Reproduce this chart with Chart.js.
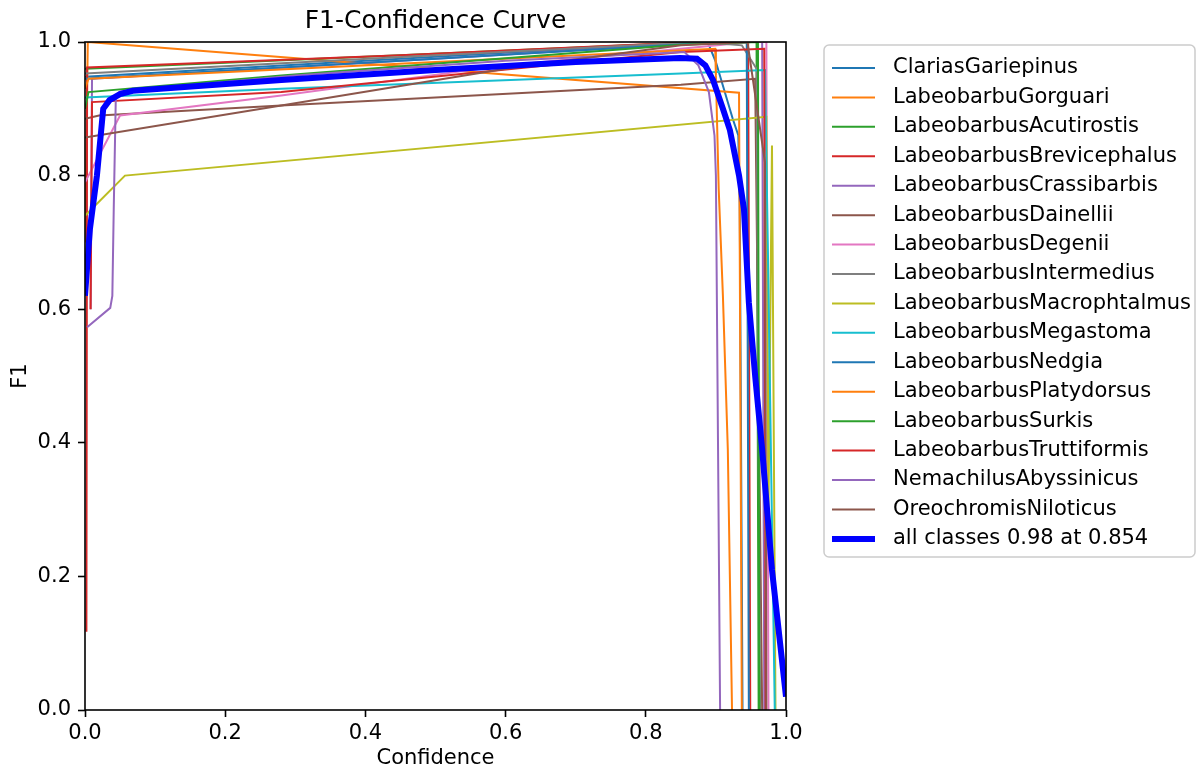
<!DOCTYPE html>
<html>
<head>
<meta charset="utf-8">
<script src="https://cdn.jsdelivr.net/npm/chart.js@4.4.1/dist/chart.umd.min.js"></script>
<style>
  body { margin: 0; background: #fff; }
</style>
</head>
<body>
<canvas id="chart" width="1198" height="768"></canvas>
<script>
const FONT = 'DejaVu Sans';

const classNames = [
    'ClariasGariepinus',
    'LabeobarbuGorguari',
    'LabeobarbusAcutirostis',
    'LabeobarbusBrevicephalus',
    'LabeobarbusCrassibarbis',
    'LabeobarbusDainellii',
    'LabeobarbusDegenii',
    'LabeobarbusIntermedius',
    'LabeobarbusMacrophtalmus',
    'LabeobarbusMegastoma',
    'LabeobarbusNedgia',
    'LabeobarbusPlatydorsus',
    'LabeobarbusSurkis',
    'LabeobarbusTruttiformis',
    'NemachilusAbyssinicus',
    'OreochromisNiloticus'
];
const allLabel = 'all classes 0.98 at 0.854';

// [confidence, F1] pairs
const clariasGariepinus = [[0, 0.948], [0.3, 0.966], [0.6, 0.984], [0.889, 0.998], [0.9, 0.97], [0.924, 0.885], [0.932, 0.86], [0.934, 0.76], [0.938, 0.0]];
const labeobarbuGorguari = [[0, 0.7], [0.004, 1.0], [0.933, 0.924], [0.937, 0.0]];
const labeobarbusAcutirostis = [[0, 0.96], [0.45, 0.98], [0.88, 1.0], [0.958, 1.0], [0.961, 0.0]];
const labeobarbusBrevicephalus = [[0.002, 0.117], [0.003, 0.962], [0.45, 0.98], [0.87, 1.0], [0.946, 1.0], [0.949, 0.0]];
const labeobarbusCrassibarbis = [[0.008, 0.6], [0.01, 0.945], [0.5, 0.975], [0.9, 1.0], [0.966, 1.0], [0.969, 0.0]];
const labeobarbusDainellii = [[0, 0.885], [0.02, 0.89], [0.28, 0.905], [0.85, 0.936], [0.956, 0.945], [0.966, 0.0]];
const labeobarbusDegenii = [[0, 0.79], [0.05, 0.89], [0.28, 0.92], [0.6, 0.965], [0.85, 0.99], [0.95, 1.0], [0.972, 1.0], [0.975, 0.0]];
const labeobarbusIntermedius = [[0, 0.953], [0.5, 0.98], [0.88, 1.0], [0.937, 0.995], [0.958, 0.96], [0.963, 0.0]];
const labeobarbusMacrophtalmus = [[0, 0.74], [0.057, 0.8], [0.972, 0.888], [0.975, 0.3], [0.98, 0.845], [0.985, 0.0]];
const labeobarbusMegastoma = [[0, 0.917], [0.28, 0.93], [0.85, 0.953], [0.97, 0.958], [0.974, 0.7], [0.984, 0.0]];
const labeobarbusNedgia = [[0, 0.945], [0.5, 0.975], [0.88, 0.998], [0.944, 1.0], [0.947, 0.0]];
const labeobarbusPlatydorsus = [[0, 0.93], [0.005, 0.945], [0.5, 0.97], [0.899, 0.99], [0.9, 0.95], [0.904, 0.78], [0.91, 0.62], [0.917, 0.39], [0.923, 0.0]];
const labeobarbusSurkis = [[0, 0.9], [0.005, 0.925], [0.28, 0.95], [0.85, 0.996], [0.96, 1.0], [0.962, 0.0]];
const labeobarbusTruttiformis = [[0.008, 0.6], [0.01, 0.91], [0.28, 0.925], [0.85, 0.985], [0.969, 0.99], [0.971, 0.0]];
const nemachilusAbyssinicus = [[0.003, 0.573], [0.036, 0.602], [0.039, 0.62], [0.041, 0.75], [0.044, 0.92], [0.05, 0.926], [0.3, 0.95], [0.6, 0.972], [0.855, 0.985], [0.875, 0.965], [0.89, 0.925], [0.898, 0.86], [0.9, 0.8], [0.903, 0.4], [0.906, 0.0]];
const oreochromisNiloticus = [[0, 0.857], [0.28, 0.905], [0.6, 0.96], [0.85, 0.995], [0.945, 1.0], [0.97, 0.82], [0.972, 0.0]];
const allClasses = [[0, 0.62], [0.007, 0.72], [0.017, 0.8], [0.026, 0.9], [0.035, 0.913], [0.05, 0.922], [0.068, 0.927], [0.28, 0.943], [0.5, 0.958], [0.7, 0.97], [0.849, 0.976], [0.873, 0.975], [0.885, 0.965], [0.896, 0.943], [0.91, 0.9], [0.92, 0.868], [0.933, 0.8], [0.94, 0.75], [0.947, 0.61], [0.956, 0.5], [0.966, 0.39], [0.98, 0.21], [1.0, 0.02]];

const classCurves = [
    clariasGariepinus, labeobarbuGorguari, labeobarbusAcutirostis, labeobarbusBrevicephalus,
    labeobarbusCrassibarbis, labeobarbusDainellii, labeobarbusDegenii, labeobarbusIntermedius,
    labeobarbusMacrophtalmus, labeobarbusMegastoma, labeobarbusNedgia, labeobarbusPlatydorsus,
    labeobarbusSurkis, labeobarbusTruttiformis, nemachilusAbyssinicus, oreochromisNiloticus
];

const axisTicks = [0, 0.2, 0.4, 0.6, 0.8, 1.0];

// matplotlib tab10, cycled
const tab10 = ['#1f77b4', '#ff7f0e', '#2ca02c', '#d62728', '#9467bd', '#8c564b', '#e377c2', '#7f7f7f', '#bcbd22', '#17becf'];

const toPoints = (pairs) => pairs.map(p => ({ x: p[0], y: p[1] }));

const datasets = classCurves.map((curve, i) => ({
    label: classNames[i],
    data: toPoints(curve),
    borderColor: tab10[i % 10],
    borderWidth: 2,
    pointRadius: 0,
    fill: false,
    order: 20 - i
}));
datasets.push({
    label: allLabel,
    data: toPoints(allClasses),
    borderColor: '#0000ff',
    borderWidth: 6,
    pointRadius: 0,
    fill: false,
    order: 0
});

// box around the plot, like matplotlib spines
const frameBox = {
    id: 'frameBox',
    afterDatasetsDraw(chart) {
        const { ctx, chartArea: a } = chart;
        ctx.save();
        ctx.strokeStyle = '#000';
        ctx.lineWidth = 1.6;
        ctx.strokeRect(a.left, a.top, a.right - a.left, a.bottom - a.top);
        ctx.restore();
    }
};

// legend drawn by hand so it can sit apart from the plot
const sideLegend = {
    id: 'sideLegend',
    afterDraw(chart) {
        const ctx = chart.ctx;
        const left = 824, top = 45, width = 371, height = 512, r = 5;
        ctx.save();
        ctx.beginPath();
        ctx.moveTo(left + r, top);
        ctx.arcTo(left + width, top, left + width, top + height, r);
        ctx.arcTo(left + width, top + height, left, top + height, r);
        ctx.arcTo(left, top + height, left, top, r);
        ctx.arcTo(left, top, left + width, top, r);
        ctx.closePath();
        ctx.fillStyle = 'rgba(255,255,255,0.8)';
        ctx.fill();
        ctx.strokeStyle = '#cccccc';
        ctx.lineWidth = 1.5;
        ctx.stroke();

        ctx.font = '21px "' + FONT + '"';
        ctx.textBaseline = 'middle';
        ctx.textAlign = 'left';
        const labels = classNames.concat([allLabel]);
        labels.forEach((text, i) => {
            const y = 68 + i * 29.43;
            const ds = chart.data.datasets[i];
            ctx.beginPath();
            ctx.strokeStyle = ds.borderColor;
            ctx.lineWidth = ds.borderWidth;
            ctx.moveTo(832, y);
            ctx.lineTo(875, y);
            ctx.stroke();
            ctx.fillStyle = '#000';
            ctx.fillText(text, 893, y);
        });
        ctx.restore();
    }
};

const tickFont = { family: FONT, size: 21 };

new Chart(document.getElementById('chart').getContext('2d'), {
    type: 'line',
    data: { datasets: datasets },
    plugins: [frameBox, sideLegend],
    options: {
        responsive: false,
        animation: false,
        layout: { padding: { left: 0, right: 412, top: 0, bottom: 0 } },
        plugins: {
            legend: { display: false },
            tooltip: { enabled: false },
            title: {
                display: true,
                text: 'F1-Confidence Curve',
                color: '#000',
                fullSize: false,
                font: { family: FONT, size: 25, weight: 'normal' },
                padding: { top: 6, bottom: 6 }
            }
        },
        scales: {
            x: {
                type: 'linear',
                min: 0,
                max: 1,
                afterFit: (scale) => { scale.height = 58; },
                afterBuildTicks: (scale) => { scale.ticks = axisTicks.map(v => ({ value: v })); },
                border: { display: false },
                grid: { display: true, drawOnChartArea: false, drawTicks: true, tickLength: 7, tickWidth: 1.6, tickColor: '#000' },
                ticks: {
                    color: '#000',
                    font: tickFont,
                    padding: 4,
                    maxRotation: 0,
                    autoSkip: false,
                    callback: (value) => Number(value).toFixed(1)
                },
                title: {
                    display: true,
                    text: 'Confidence',
                    color: '#000',
                    font: { family: FONT, size: 21, lineHeight: 1 },
                    padding: { top: 0, bottom: -1 }
                }
            },
            y: {
                type: 'linear',
                min: 0,
                max: 1,
                afterFit: (scale) => { scale.width = 85; },
                afterBuildTicks: (scale) => { scale.ticks = axisTicks.map(v => ({ value: v })); },
                border: { display: false },
                grid: { display: true, drawOnChartArea: false, drawTicks: true, tickLength: 7, tickWidth: 1.6, tickColor: '#000' },
                ticks: {
                    color: '#000',
                    font: tickFont,
                    padding: 7,
                    callback: (value) => Number(value).toFixed(1)
                },
                title: {
                    display: true,
                    text: 'F1',
                    color: '#000',
                    font: { family: FONT, size: 21, lineHeight: 1 },
                    padding: { top: 10, bottom: 0 }
                }
            }
        }
    }
});
</script>
</body>
</html>
